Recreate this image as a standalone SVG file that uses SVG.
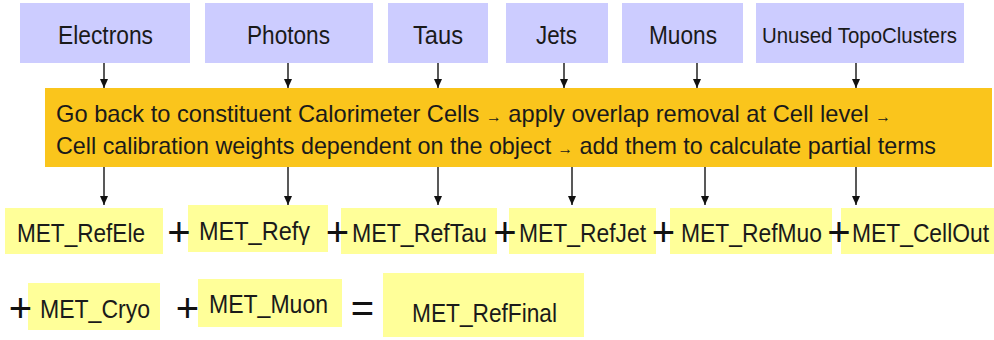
<svg xmlns="http://www.w3.org/2000/svg" width="994" height="340" viewBox="0 0 994 340">
<style>
.src{fill:#ccccff}
.lbl{font-family:"Liberation Sans",Arial,sans-serif;font-size:26px;fill:#1a1a1a}
.term{fill:#ffff99}
.op{font-family:"Liberation Sans",Arial,sans-serif;font-size:40px;fill:#111}
.conn{stroke:#222;stroke-width:1.5;fill:none;marker-end:url(#ah)}
.arr{font-size:16px}
</style>
<defs>
<marker id="ah" markerUnits="userSpaceOnUse" markerWidth="10" markerHeight="10" refX="9" refY="5" orient="auto">
<path d="M0,1 L9,5 L0,9 Z" fill="#111"/>
</marker>
</defs>
<rect width="994" height="340" fill="#fff"/>

<g id="electrons"><rect class="src" x="20" y="3" width="170" height="60"/><text class="lbl" x="105.5" y="44" text-anchor="middle" textLength="95" lengthAdjust="spacingAndGlyphs">Electrons</text></g>
<g id="photons"><rect class="src" x="205" y="3" width="168" height="60"/><text class="lbl" x="288.5" y="44" text-anchor="middle" textLength="83" lengthAdjust="spacingAndGlyphs">Photons</text></g>
<g id="taus"><rect class="src" x="388" y="3" width="100" height="60"/><text class="lbl" x="438" y="44" text-anchor="middle" textLength="50" lengthAdjust="spacingAndGlyphs">Taus</text></g>
<g id="jets"><rect class="src" x="506" y="3" width="102" height="60"/><text class="lbl" x="556.5" y="44" text-anchor="middle" textLength="41" lengthAdjust="spacingAndGlyphs">Jets</text></g>
<g id="muons"><rect class="src" x="622" y="3" width="121" height="60"/><text class="lbl" x="683" y="44" text-anchor="middle" textLength="68" lengthAdjust="spacingAndGlyphs">Muons</text></g>
<g id="topoclusters"><rect class="src" x="756" y="3" width="208" height="60"/><text class="lbl" x="859.5" y="43" text-anchor="middle" style="font-size:22px" textLength="195" lengthAdjust="spacingAndGlyphs">Unused TopoClusters</text></g>

<g id="process"><rect x="45" y="88" width="947" height="79" fill="#fac51c"/>
<text class="lbl" x="56" y="122" style="font-size:24px" textLength="835" lengthAdjust="spacingAndGlyphs">Go back to constituent Calorimeter Cells <tspan class="arr">→</tspan>  apply overlap removal at Cell level <tspan class="arr">→</tspan></text>
<text class="lbl" x="56" y="154" style="font-size:24px" textLength="880" lengthAdjust="spacingAndGlyphs">Cell calibration weights dependent on the object <tspan class="arr">→</tspan> add them to calculate partial terms</text></g>

<g id="connectors">
<line class="conn" x1="104" y1="63" x2="104" y2="88"/>
<line class="conn" x1="288" y1="63" x2="288" y2="88"/>
<line class="conn" x1="438" y1="63" x2="438" y2="88"/>
<line class="conn" x1="564" y1="63" x2="564" y2="88"/>
<line class="conn" x1="697" y1="63" x2="697" y2="88"/>
<line class="conn" x1="856" y1="63" x2="856" y2="88"/>
<line class="conn" x1="104" y1="167" x2="104" y2="205"/>
<line class="conn" x1="288" y1="167" x2="288" y2="205"/>
<line class="conn" x1="438" y1="167" x2="438" y2="205"/>
<line class="conn" x1="572" y1="167" x2="572" y2="205"/>
<line class="conn" x1="705" y1="167" x2="705" y2="205"/>
<line class="conn" x1="856" y1="167" x2="856" y2="205"/>
</g>

<g id="refele"><rect class="term" x="5" y="208" width="158" height="46"/><text class="lbl" x="17" y="242" textLength="128" lengthAdjust="spacingAndGlyphs">MET_RefEle</text></g>
<g id="refgamma"><rect class="term" x="188" y="205" width="140" height="47"/><text class="lbl" x="199" y="240" textLength="111" lengthAdjust="spacingAndGlyphs">MET_Refγ</text></g>
<g id="reftau"><rect class="term" x="341" y="208" width="156" height="46"/><text class="lbl" x="352" y="242" textLength="135" lengthAdjust="spacingAndGlyphs">MET_RefTau</text></g>
<g id="refjet"><rect class="term" x="509" y="208" width="147" height="46"/><text class="lbl" x="519" y="242" textLength="127" lengthAdjust="spacingAndGlyphs">MET_RefJet</text></g>
<g id="refmuo"><rect class="term" x="670" y="208" width="162" height="46"/><text class="lbl" x="681" y="242" textLength="141" lengthAdjust="spacingAndGlyphs">MET_RefMuo</text></g>
<g id="cellout"><rect class="term" x="841" y="208" width="153" height="46"/><text class="lbl" x="852" y="242" textLength="137" lengthAdjust="spacingAndGlyphs">MET_CellOut</text></g>
<g id="cryo"><rect class="term" x="28" y="283" width="132" height="47"/><text class="lbl" x="40" y="318" textLength="110" lengthAdjust="spacingAndGlyphs">MET_Cryo</text></g>
<g id="muon"><rect class="term" x="198" y="279" width="144" height="48"/><text class="lbl" x="209" y="313" textLength="119" lengthAdjust="spacingAndGlyphs">MET_Muon</text></g>
<g id="reffinal"><rect class="term" x="383" y="273" width="201" height="64"/><text class="lbl" x="412" y="322" textLength="145" lengthAdjust="spacingAndGlyphs">MET_RefFinal</text></g>

<g id="operators">
<text class="op" x="179" y="246" text-anchor="middle">+</text>
<text class="op" x="337.5" y="246" text-anchor="middle">+</text>
<text class="op" x="505" y="246" text-anchor="middle">+</text>
<text class="op" x="663.5" y="246" text-anchor="middle">+</text>
<text class="op" x="839" y="246" text-anchor="middle">+</text>
<text class="op" x="20.5" y="322" text-anchor="middle">+</text>
<text class="op" x="187.5" y="322" text-anchor="middle">+</text>
<text class="op" x="362.5" y="322" text-anchor="middle">=</text>
</g>
</svg>
